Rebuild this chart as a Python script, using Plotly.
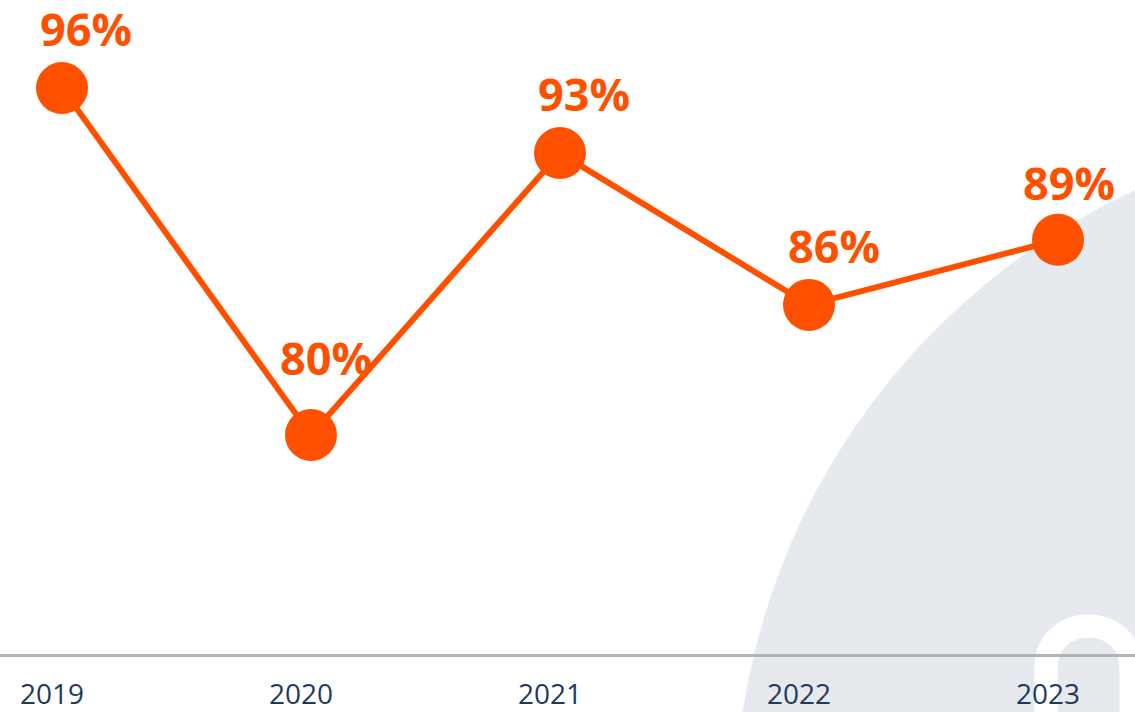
import plotly.graph_objects as go

years = ['2019', '2020', '2021', '2022', '2023']
share = [96, 80, 93, 86, 89]
labels = ['96%', '80%', '93%', '86%', '89%']

W, H = 1135, 712
AXIS_Y = 654   # pixel row of the x axis line (bottom of plot area)
ORANGE = '#FF5000'
NAVY = '#1F3A5F'


def px(x):
    return x / W


def py(y):
    return (AXIS_Y - y) / AXIS_Y


fig = go.Figure()

fig.add_trace(go.Scatter(
    x = years, y = share, mode = 'lines+markers',
    line = dict(color = ORANGE, width = 6),
    marker = dict(color = ORANGE, size = 52),
    cliponaxis = False, hoverinfo = 'skip'
))

# label offsets (pixels); x given as category index so plotly does not
# read the year strings as numbers
xshift = [24, 15, 24, 25, 11]
yshift = [27, 45, 27, 27, 25]
for i, (v, t) in enumerate(zip(share, labels)):
    fig.add_annotation(
        x = i, y = v, text = t, showarrow = False,
        xanchor = 'center', yanchor = 'bottom',
        xshift = xshift[i], yshift = yshift[i],
        font = dict(family = 'Open Sans', size = 45, weight = 700, color = ORANGE)
    )

# background decoration: big grey disc and white arch
cx, cy, r = 1423, 815, 688
fig.add_shape(
    type = 'circle', xref = 'paper', yref = 'paper', layer = 'below',
    x0 = px(cx - r), x1 = px(cx + r), y0 = py(cy + r), y1 = py(cy - r),
    fillcolor = '#E6EAEE', line = dict(width = 0)
)
arch = 'M {},{} L {},{} C {},{} {},{} {},{} L {},{}'.format(
    px(1046), py(720), px(1046), py(668),
    px(1046), py(612), px(1131), py(612), px(1131), py(668),
    px(1131), py(720))
fig.add_shape(
    type = 'path', xref = 'paper', yref = 'paper', layer = 'below',
    path = arch, line = dict(color = 'white', width = 23)
)

fig.update_layout(
    width = W,
    height = H,
    margin = dict(l = 0, r = 0, t = 0, b = H - AXIS_Y),
    plot_bgcolor = 'rgba(0,0,0,0)',
    paper_bgcolor = 'white',
    showlegend = False,
    font = dict(family = 'Open Sans', color = NAVY, size = 28)
)
fig.update_xaxes(
    type = 'category',
    range = [-62 / 249, -62 / 249 + W / 249],
    showline = True, linecolor = '#B3B3B3', linewidth = 2.5,
    showgrid = False, zeroline = False, ticks = '',
    ticklabelshift = -10, ticklabelstandoff = 14,
    tickfont = dict(family = 'Open Sans', size = 28, color = NAVY)
)
fig.update_yaxes(
    range = [69.9, 100.06],
    visible = False, showgrid = False, zeroline = False
)

fig.write_html('out.html', config = dict(displayModeBar = False),
               post_script = "document.body.style.margin = '0';")
